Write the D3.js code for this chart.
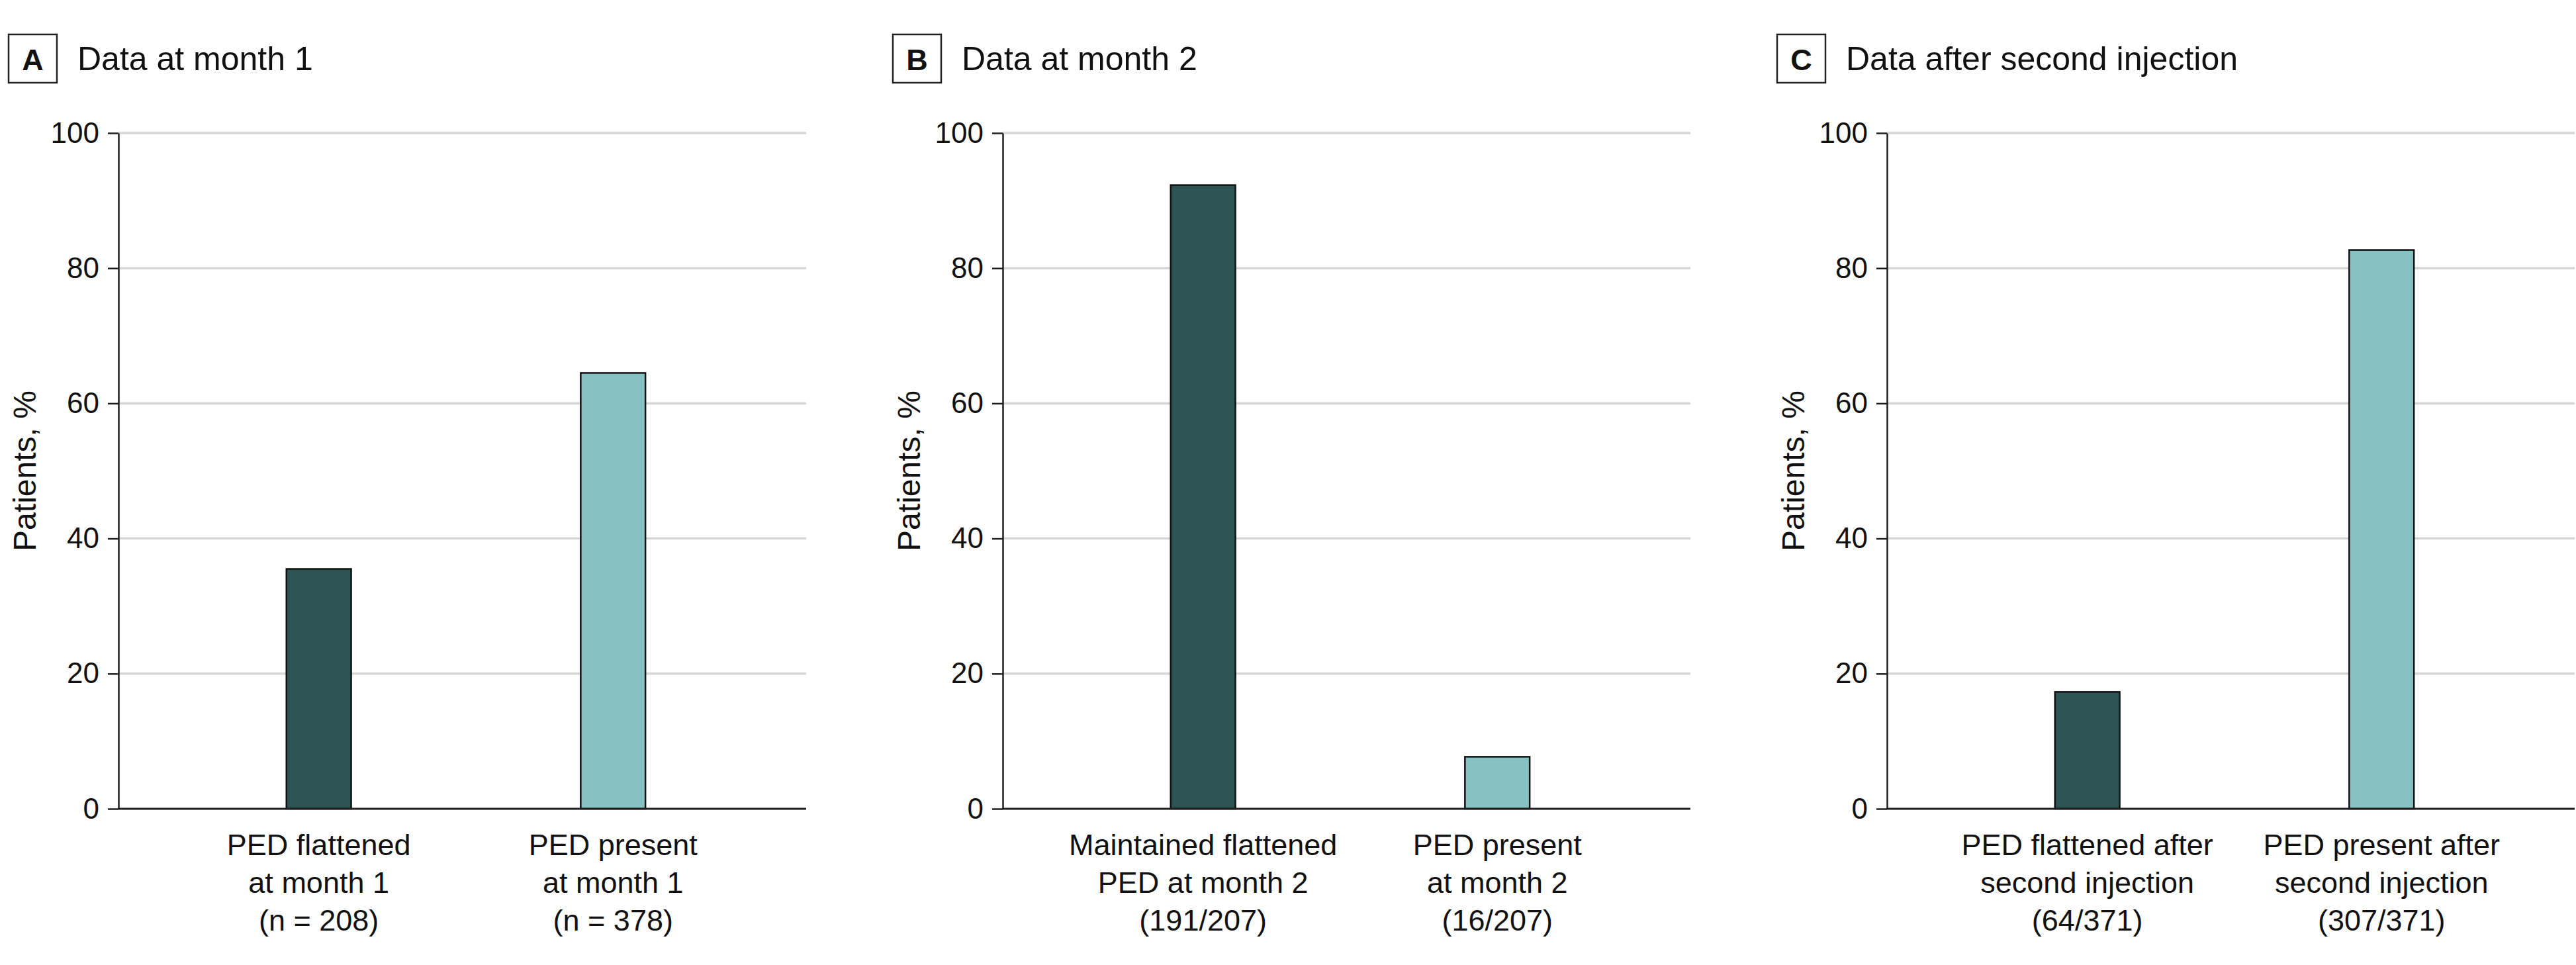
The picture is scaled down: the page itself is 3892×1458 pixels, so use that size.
<!DOCTYPE html>
<html>
<head>
<meta charset="utf-8">
<script src="https://cdn.jsdelivr.net/npm/d3@7"></script>
<style>
  html, body { margin: 0; padding: 0; background: #fff; }
  svg text { font-family: "Liberation Sans", Arial, sans-serif; fill: #111; }
</style>
</head>
<body>
<svg id="chart" width="3892" height="1458"></svg>
<script>
// ---- Data ----
const panelLetters = ["A", "B", "C"];
const panelTitles = ["Data at month 1", "Data at month 2", "Data after second injection"];
const categoriesA = [["PED flattened", "at month 1", "(n = 208)"], ["PED present", "at month 1", "(n = 378)"]];
const categoriesB = [["Maintained flattened", "PED at month 2", "(191/207)"], ["PED present", "at month 2", "(16/207)"]];
const categoriesC = [["PED flattened after", "second injection", "(64/371)"], ["PED present after", "second injection", "(307/371)"]];
const valuesA = [35.5, 64.5];
const valuesB = [92.3, 7.7];
const valuesC = [17.3, 82.7];
const yTicks = [0, 20, 40, 60, 80, 100];
const yLabel = "Patients, %";

// ---- Styles / layout ----
const barColors = ["#2b5452", "#86c2c1"];
const gridColor = "#d6d6d6";
const axisColor = "#1e1e1e";

const panels = [
  { letter: panelLetters[0], title: panelTitles[0], cats: categoriesA, vals: valuesA },
  { letter: panelLetters[1], title: panelTitles[1], cats: categoriesB, vals: valuesB },
  { letter: panelLetters[2], title: panelTitles[2], cats: categoriesC, vals: valuesC }
];

const svg = d3.select("#chart");
const plotTop = 201, plotBottom = 1222, plotW = 1039;
const firstAxisX = 179, panelStep = 1336;

const y = d3.scaleLinear().domain([0, 100]).range([plotBottom, plotTop]);

panels.forEach((p, i) => {
  const ox = firstAxisX + i * panelStep;
  const g = svg.append("g").attr("transform", `translate(${ox},0)`);

  const x = d3.scaleBand()
    .domain(d3.range(p.vals.length))
    .range([0, plotW])
    .paddingInner(0.78)
    .paddingOuter(0.5585)
    .align(0.511);

  // gridlines
  g.append("g").selectAll("line")
    .data(yTicks.filter(t => t > 0))
    .join("line")
    .attr("x1", 0).attr("x2", plotW)
    .attr("y1", d => y(d)).attr("y2", d => y(d))
    .attr("stroke", gridColor).attr("stroke-width", 3.5);

  // bars
  g.append("g").selectAll("rect")
    .data(p.vals)
    .join("rect")
    .attr("x", (d, j) => x(j))
    .attr("width", x.bandwidth())
    .attr("y", d => y(d))
    .attr("height", d => y(0) - y(d))
    .attr("fill", (d, j) => barColors[j])
    .attr("stroke", "#111")
    .attr("stroke-width", 2.5);

  // baseline
  g.append("line")
    .attr("x1", 0).attr("x2", plotW)
    .attr("y1", y(0)).attr("y2", y(0))
    .attr("stroke", axisColor).attr("stroke-width", 3);

  // y axis
  const ax = g.append("g")
    .call(d3.axisLeft(y).tickValues(yTicks).tickSize(16).tickSizeOuter(0).tickPadding(13));
  ax.select(".domain").attr("stroke", axisColor).attr("stroke-width", 2.5);
  ax.selectAll(".tick line").attr("stroke", axisColor).attr("stroke-width", 2.5);
  ax.selectAll(".tick text")
    .attr("font-size", 44)
    .attr("font-family", '"Liberation Sans", Arial, sans-serif')
    .attr("fill", "#111");

  // y label
  g.append("text")
    .attr("transform", `translate(${-125},${(plotTop + plotBottom) / 2}) rotate(-90)`)
    .attr("text-anchor", "middle")
    .attr("font-size", 48)
    .text(yLabel);

  // category labels
  p.cats.forEach((lines, j) => {
    const cx = x(j) + x.bandwidth() / 2;
    const t = g.append("text")
      .attr("text-anchor", "middle")
      .attr("font-size", 45);
    lines.forEach((ln, k) => {
      t.append("tspan")
        .attr("x", cx)
        .attr("y", 1292 + k * 57)
        .text(ln);
    });
  });

  // panel letter box + title
  g.append("rect")
    .attr("x", -166).attr("y", 52)
    .attr("width", 73).attr("height", 73)
    .attr("fill", "none").attr("stroke", "#222").attr("stroke-width", 2.5);
  g.append("text")
    .attr("x", -129.5).attr("y", 106)
    .attr("text-anchor", "middle")
    .attr("font-size", 45).attr("font-weight", "bold")
    .text(p.letter);
  g.append("text")
    .attr("x", -62).attr("y", 106)
    .attr("font-size", 50)
    .text(p.title);
});
</script>
</body>
</html>
